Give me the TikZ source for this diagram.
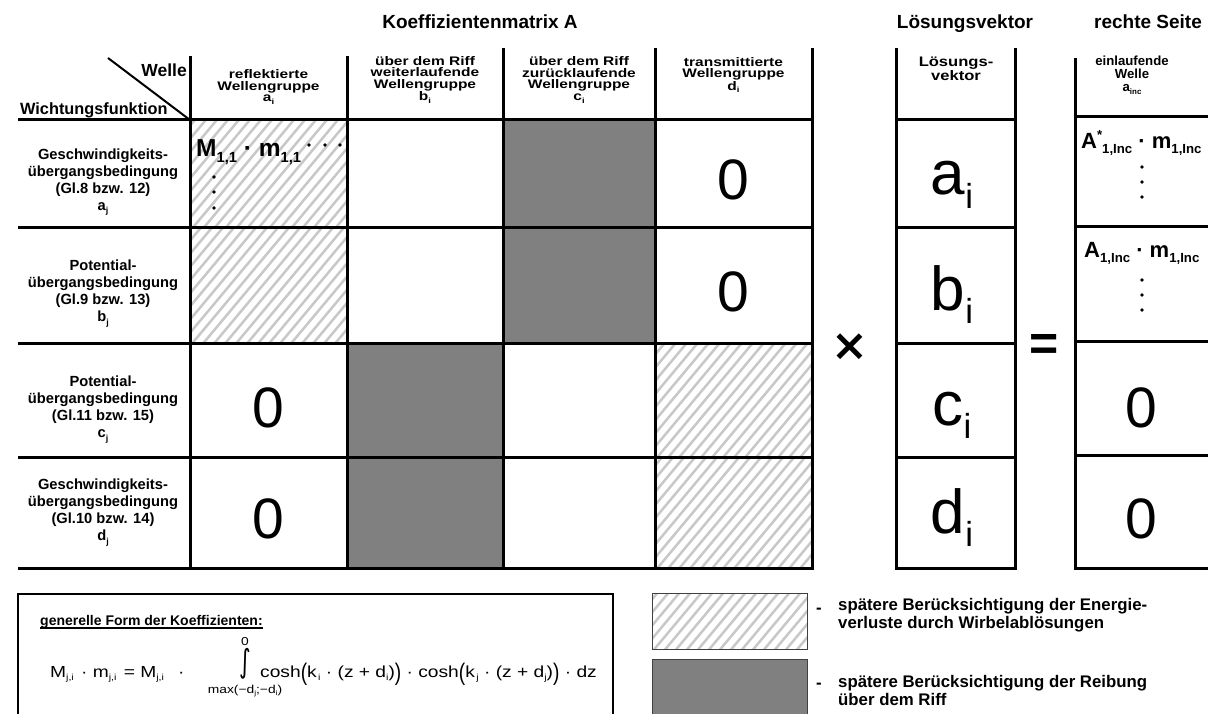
\documentclass[tikz,border=0pt]{standalone}
\usepackage{fontspec}
\usepackage{graphicx}
\setmainfont{Liberation Sans}
\newfontfamily\wf{Liberation Sans}[FakeStretch=1.2]
\newfontfamily\xf{Liberation Sans}[FakeStretch=1.25]
\newfontfamily\dvfont{DejaVu Sans}
\newcommand\sbx[2][0.6]{\raisebox{-0.22em}{\scalebox{#1}{#2}}}
\newcommand\spx[2][0.6]{\raisebox{0.45em}{\scalebox{#1}{#2}}}
\newcommand\bigp[1]{\raisebox{-0.2em}{\scalebox{1}[1.5]{#1}}}
\definecolor{hatchgray}{HTML}{C8C8C8}
\definecolor{fillgray}{HTML}{808080}
\newcommand\hatchcell[4]{%
  \begin{scope}
    \clip (#1,#2) rectangle (#3,#4);
    \foreach \k in {-14,...,16} {\draw[hatchline] ({#1+\k*11},{#4+3}) -- ++(112,-134);}
  \end{scope}}
\begin{document}
\begin{tikzpicture}[x=1pt,y=-1pt,
  grid/.style={line width=3pt, line cap=rect},
  hatchline/.style={line width=2.5pt, draw=hatchgray},
  ttl/.style={font=\bfseries\fontsize{19}{20}\selectfont, inner sep=0pt, anchor=base},
  hdr/.style={font=\xf\bfseries\fontsize{12.4}{11.5}\selectfont, align=center, inner sep=0pt},
  corner/.style={font=\bfseries\fontsize{16.3}{18}\selectfont, inner sep=0pt},
  rowlbl/.style={font=\bfseries\fontsize{14.7}{17}\selectfont, align=center, inner sep=0pt},
  zero/.style={font=\fontsize{57}{57}\selectfont, inner sep=0pt, anchor=base},
  vecent/.style={font=\fontsize{62}{62}\selectfont, inner sep=0pt, anchor=base},
  cellf/.style={font=\bfseries\fontsize{24.5}{25}\selectfont, inner sep=0pt, anchor=base west},
  rhs/.style={font=\bfseries\fontsize{22}{22}\selectfont, inner sep=0pt, anchor=base west},
  leg/.style={font=\bfseries\fontsize{16.8}{18}\selectfont, align=left, inner sep=0pt},
  fml/.style={font=\wf\fontsize{16}{18}\selectfont, inner sep=0pt, anchor=base west},
  lim/.style={font=\wf\fontsize{11.5}{11.5}\selectfont, inner sep=0pt},
  dotc/.style={fill=black, draw=none},
  legbox/.style={line width=1pt, draw=black!75},
]
\useasboundingbox (0,0) rectangle (1208,714);
\clip (0,0) rectangle (1208,714);
\fill[white] (0,0) rectangle (1208,714);

% ---- fills
\hatchcell{190}{120}{347}{228}
\hatchcell{190}{228}{347}{343}
\hatchcell{655}{343}{812}{457}
\hatchcell{655}{457}{812}{568}
\fill[fillgray] (503,120) rectangle (655,343);
\fill[fillgray] (347,343) rectangle (503,568);

% ---- matrix grid
\foreach \yy in {120,228,343,457,568} {\draw[grid] (19,\yy) -- (812,\yy);}
\draw[grid] (190,58) -- (190,568);
\draw[grid] (347,58) -- (347,568);
\draw[grid] (503,50) -- (503,568);
\draw[grid] (655,50) -- (655,568);
\draw[grid] (812,50) -- (812,568);
\draw[line width=2pt] (108,58) -- (190,120);

% ---- solution vector grid
\draw[grid] (896,50) -- (896,568);
\draw[grid] (1015,50) -- (1015,568);
\foreach \yy in {120,228,343,457,568} {\draw[grid] (896,\yy) -- (1015,\yy);}

% ---- right side grid
\draw[grid] (1075,60) -- (1075,568);
\foreach \yy in {117,227,341,455,568} {\draw[grid] (1075,\yy) -- (1212,\yy);}

% ---- titles
\node[ttl] (tA) at (480,29) {Koeffizientenmatrix A};
\node[ttl] (tL) at (965,29) {Lösungsvektor};
\node[ttl] (tR) at (1148,29) {rechte Seite};

% ---- corner
\node[corner, anchor=east, font=\bfseries\fontsize{17.5}{18}\selectfont] (welle) at (187,70) {Welle};
\node[corner, anchor=west] (wicht) at (20,110) {Wichtungsfunktion};

% ---- column headers
\node[hdr] (h1) at (268.5,87) {reflektierte\\Wellengruppe\\a\sbx{i}};
\node[hdr] (h2) at (425,80) {über dem Riff\\weiterlaufende\\Wellengruppe\\b\sbx{i}};
\node[hdr] (h3) at (579,80) {über dem Riff\\zurücklaufende\\Wellengruppe\\c\sbx{i}};
\node[hdr] (h4) at (733.5,75) {transmittierte\\Wellengruppe\\d\sbx{i}};
\node[hdr, font=\wf\bfseries\fontsize{13.8}{12}\selectfont] (hv) at (956,69) {Lösungs-\\vektor};
\node[hdr, font=\bfseries\fontsize{13.2}{13}\selectfont] (hr) at (1132,75) {einlaufende\\Welle\\a\sbx{inc}};

% ---- row labels
\node[rowlbl] (r1) at (103,182) {Geschwindigkeits-\\übergangsbedingung\\(Gl.8 bzw. 12)\\a\sbx{j}};
\node[rowlbl] (r2) at (103,293.5) {Potential-\\übergangsbedingung\\(Gl.9 bzw. 13)\\b\sbx{j}};
\node[rowlbl] (r3) at (103,409.5) {Potential-\\übergangsbedingung\\(Gl.11 bzw. 15)\\c\sbx{j}};
\node[rowlbl] (r4) at (103,512.5) {Geschwindigkeits-\\übergangsbedingung\\(Gl.10 bzw. 14)\\d\sbx{j}};

% ---- matrix cells
\node[cellf] (m11) at (196,157) {M\sbx{1,1} · m\sbx{1,1}};
\foreach \xx in {309,325,340} {\fill[dotc] (\xx,145) circle (1.9);}
\foreach \yy in {177,192,208} {\fill[dotc] (214,\yy) circle (1.9);}
\node[zero] (z14) at (733.5,200) {0};
\node[zero] (z24) at (733.5,311.5) {0};
\node[zero] (z31) at (268.5,427) {0};
\node[zero] (z41) at (268.5,538.5) {0};

% ---- operators
\node[font=\dvfont\bfseries\fontsize{44}{44}\selectfont, inner sep=0pt] (times) at (850,347) {×};
\node[font=\bfseries\fontsize{50}{50}\selectfont, inner sep=0pt] (eq) at (1044,347) {=};

% ---- solution vector
\node[vecent] (va) at (952,195) {a\sbx[0.56]{i}};
\node[vecent] (vb) at (952,310) {b\sbx[0.56]{i}};
\node[vecent] (vc) at (952,425) {c\sbx[0.56]{i}};
\node[vecent] (vd) at (952,533) {d\sbx[0.56]{i}};

% ---- right side
\node[rhs] (ra) at (1081,149) {A\spx{*}\sbx{1,Inc} · m\sbx{1,Inc}};
\foreach \yy in {167,182,197} {\fill[dotc] (1142,\yy) circle (1.9);}
\node[rhs] (rb) at (1084,258) {A\sbx{1,Inc} · m\sbx{1,Inc}};
\foreach \yy in {280,295,310} {\fill[dotc] (1142,\yy) circle (1.9);}
\node[zero] (z3r) at (1141.5,427) {0};
\node[zero] (z4r) at (1141.5,538.5) {0};

% ---- formula box
\draw[line width=2pt] (18,594) rectangle (613,740);
\node[font=\bfseries\fontsize{14}{16}\selectfont, inner sep=0pt, anchor=base west] (gf) at (40,625) {generelle Form der Koeffizienten:};
\draw[line width=1.3pt] ([yshift=-3pt]gf.base west) -- ([yshift=-3pt]gf.base east);
\node[fml] (f1) at (50,677) {M\sbx[0.55]{j,i}\hspace{2pt} · m\sbx[0.55]{j,i}\hspace{2pt} = M\sbx[0.55]{j,i}\hspace{14pt}·};
\node[font=\dvfont\fontsize{32}{32}\selectfont, inner sep=0pt] (int) at (245,664) {\scalebox{0.7}[1]{∫}};
\node[lim] (up) at (245,642) {0};
\node[lim] (lo) at (245,691) {max(−d\sbx{j};−d\sbx{i})};
\node[fml] (f2) at (260,677) {cosh\bigp{(}k\sbx[0.55]{\,i} · (z + d\sbx[0.55]{i})\bigp{)} · cosh\bigp{(}k\sbx[0.55]{\,j} · (z + d\sbx[0.55]{j})\bigp{)} · dz};

% ---- legend
\hatchcell{652}{593}{807}{649}
\draw[legbox] (652,593) rectangle (807,649);
\fill[fillgray] (652,659) rectangle (807,730);
\draw[legbox] (652,659) rectangle (807,730);
\node[leg, anchor=west] (d1) at (816,611) {-};
\node[leg, anchor=west] (l1) at (838,615) {spätere Berücksichtigung der Energie-\\verluste durch Wirbelablösungen};
\node[leg, anchor=west] (d2) at (816,686) {-};
\node[leg, anchor=west] (l2) at (838,690) {spätere Berücksichtigung der Reibung\\über dem Riff};
\end{tikzpicture}
\end{document}
